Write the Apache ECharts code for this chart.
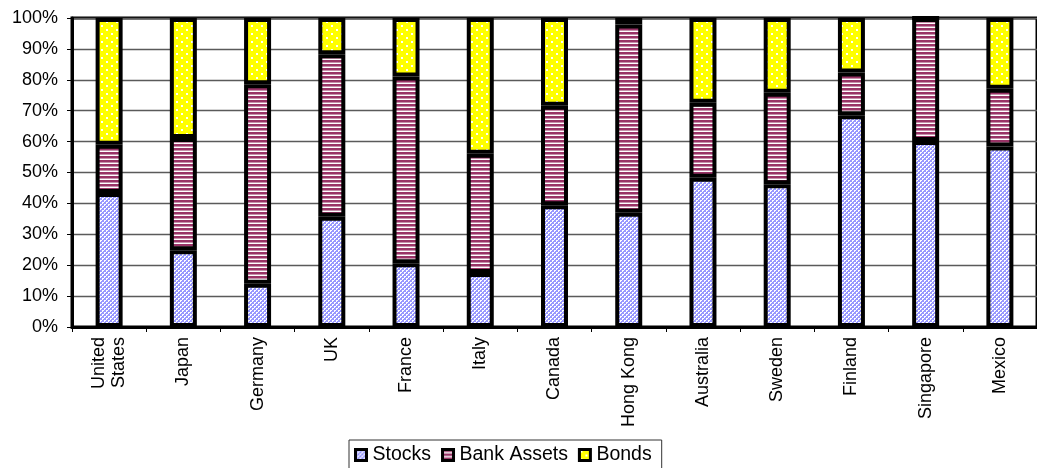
<!DOCTYPE html>
<html>
<head>
<meta charset="utf-8">
<title>Financial structure by country</title>
<script src="https://cdn.jsdelivr.net/npm/echarts@6/dist/echarts.min.js"></script>
<style>
  html, body { margin: 0; padding: 0; background: #fff; }
  #chart { width: 1037px; height: 468px; }
</style>
</head>
<body>
<div id="chart"></div>
<script>
// Country categories (x axis)
const countries = ['United\nStates', 'Japan', 'Germany', 'UK', 'France', 'Italy', 'Canada',
  'Hong Kong', 'Australia', 'Sweden', 'Finland', 'Singapore', 'Mexico'];

// Share of each component in percent (each country sums to 100)
const stocks     = [43.4, 24.8, 14.0, 35.7, 20.6, 17.5, 39.4, 37.0, 48.3, 46.2, 68.5, 60.2, 58.4];
const bankAssets = [15.6, 36.4, 64.6, 52.6, 60.5, 38.6, 32.2, 60.9, 24.3, 29.6, 13.9, 39.8, 18.7];
const bonds      = [41.0, 38.8, 21.4, 11.7, 18.9, 43.9, 28.4,  2.1, 27.4, 24.2, 17.6,  0.0, 22.9];

// Y axis tick settings
const yMin = 0, yMax = 100, yStep = 10;

// Small repeating fill textures for the three components
function makeTile(w, h, draw) {
  const c = document.createElement('canvas');
  c.width = w; c.height = h;
  draw(c.getContext('2d'));
  return { image: c, repeat: 'repeat' };
}
// fine blue/white checker
const stockFill = makeTile(4, 4, g => {
  g.fillStyle = '#9999ff'; g.fillRect(0, 0, 4, 4);
  g.fillStyle = '#ffffff';
  g.fillRect(0, 0, 2, 1); g.fillRect(0, 1, 1, 1);
  g.fillRect(2, 2, 2, 1); g.fillRect(2, 3, 1, 1);
});
// horizontal purple/white stripes
const bankFill = makeTile(4, 4, g => {
  g.fillStyle = '#ffffff'; g.fillRect(0, 0, 4, 4);
  g.fillStyle = '#993366'; g.fillRect(0, 0, 4, 2);
  g.fillStyle = '#c690ab'; g.fillRect(0, 2, 4, 1);
});
// yellow with staggered white dots
const bondFill = makeTile(10, 8, g => {
  g.fillStyle = '#ffff00'; g.fillRect(0, 0, 10, 8);
  g.fillStyle = '#ffffff'; g.fillRect(1, 1, 2, 2); g.fillRect(6, 5, 2, 2);
});

const font = '"Liberation Sans", Arial, sans-serif';
const barStyle = fill => ({ color: fill, borderColor: '#000', borderWidth: 4 });
const legendIcon = { borderColor: '#000', borderWidth: 3 };

const chart = echarts.init(document.getElementById('chart'), null, { renderer: 'canvas' });
chart.setOption({
  animation: false,
  backgroundColor: '#fff',
  grid: {
    left: 72, top: 18, right: -10, bottom: 141,
    show: true, borderColor: '#000', borderWidth: 3, backgroundColor: 'transparent'
  },
  legend: {
    left: 349, top: 440,
    padding: [5, 10, 14, 5],
    borderColor: '#333', borderWidth: 1,
    itemWidth: 11, itemHeight: 11, itemGap: 10,
    icon: 'rect',
    textStyle: { fontFamily: font, fontSize: 19.5, color: '#000', padding: [0, 0, 0, 1] },
    data: [
      { name: 'Stocks', itemStyle: legendIcon },
      { name: 'Bank Assets', itemStyle: legendIcon },
      { name: 'Bonds', itemStyle: legendIcon }
    ]
  },
  xAxis: {
    type: 'category',
    data: countries,
    axisLine: { lineStyle: { color: '#000', width: 3 } },
    axisTick: { show: true, length: 5, lineStyle: { color: '#000', width: 1 } },
    axisLabel: {
      rotate: 90, margin: 10, interval: 0,
      fontFamily: font, fontSize: 18, color: '#000', lineHeight: 20
    },
    splitLine: { show: false }
  },
  yAxis: {
    type: 'value',
    min: yMin, max: yMax, interval: yStep,
    axisLine: { show: true, lineStyle: { color: '#000', width: 3 } },
    axisTick: { show: true, length: 5, lineStyle: { color: '#000', width: 1 } },
    axisLabel: {
      formatter: '{value}%', margin: 14,
      fontFamily: font, fontSize: 18, color: '#000'
    },
    splitLine: { show: true, lineStyle: { color: '#5a5a5a', width: 1.3 } }
  },
  series: [
    { name: 'Stocks', type: 'bar', stack: 'total', data: stocks, barWidth: 27, itemStyle: barStyle(stockFill) },
    { name: 'Bank Assets', type: 'bar', stack: 'total', data: bankAssets, barWidth: 27, itemStyle: barStyle(bankFill) },
    { name: 'Bonds', type: 'bar', stack: 'total', data: bonds, barWidth: 27, itemStyle: barStyle(bondFill) }
  ]
});
</script>
</body>
</html>
